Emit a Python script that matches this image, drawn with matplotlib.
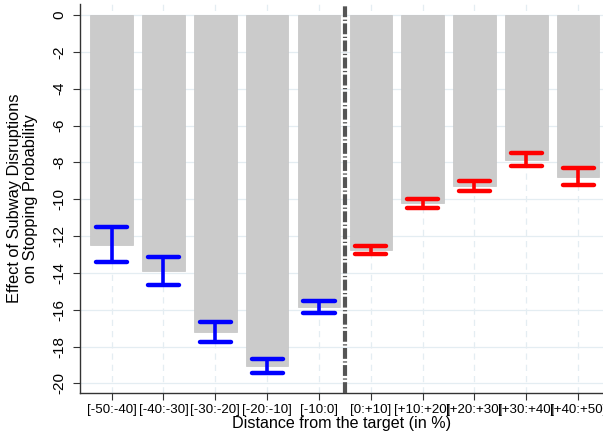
import matplotlib
matplotlib.use("Agg")
import matplotlib.pyplot as plt
import numpy as np

plt.rcParams["font.family"] = ["Liberation Sans", "DejaVu Sans"]

bins = ["[-50:-40]", "[-40:-30]", "[-30:-20]", "[-20:-10]", "[-10:0]",
        "[0:+10]", "[+10:+20]", "[+20:+30]", "[+30:+40]", "[+40:+50]"]
effect = [-12.5, -13.9, -17.2, -19.05, -15.85, -12.73, -10.22, -9.26, -7.86, -8.77]
ci_high = [-11.53, -13.14, -16.67, -18.67, -15.51, -12.51, -9.99, -9.0, -7.5, -8.28]
ci_low = [-13.4, -14.66, -17.77, -19.45, -16.2, -12.98, -10.48, -9.54, -8.19, -9.2]
side = ["below"] * 5 + ["above"] * 5

fig = plt.figure(figsize=(6.03, 4.36), dpi=100)
ax = fig.add_axes([80 / 603, 1 - 392.7 / 436, 1 - 80 / 603, (392.7 - 4) / 436])

x = np.arange(1, len(bins) + 1)
grid_col = "#e4edf2"

ax.bar(x, effect, width=0.82, color="#cbcbcb", edgecolor="#c4c4c4",
       linewidth=0.5, zorder=2)

colors = ["#0000ff" if s == "below" else "#ff0000" for s in side]
ax.vlines(x, ci_low, ci_high, colors=colors, linewidth=2.6, zorder=3)
ax.hlines(ci_low, x - 0.3, x + 0.3, colors=colors, linewidth=3.2,
          capstyle="round", zorder=3)
ax.hlines(ci_high, x - 0.3, x + 0.3, colors=colors, linewidth=3.2,
          capstyle="round", zorder=3)

# threshold between negative and positive distance
ax.axvline(5.5, color="#555555", linewidth=3, dashes=(2.6, 0.6, 0.3, 0.6),
           zorder=4)

ax.set_xlim(0.39, 10.48)
ax.set_ylim(-20.5, 0.6)
ax.set_yticks(np.arange(0, -21, -2))
ax.set_yticklabels([str(v) for v in range(0, -21, -2)], rotation=90,
                   va="center", fontsize=11)
ax.set_xticks(x)
ax.set_xticklabels(bins, fontsize=9.6)

ax.grid(axis="y", color=grid_col, linewidth=0.9, zorder=0)
ax.grid(axis="x", color=grid_col, linewidth=0.9, linestyle=(0, (5, 4)),
        zorder=0)
ax.set_axisbelow(True)

for s in ["top", "right"]:
    ax.spines[s].set_visible(False)
for s in ["left", "bottom"]:
    ax.spines[s].set_color("#333333")
    ax.spines[s].set_linewidth(1.0)
ax.tick_params(axis="both", length=5, color="#333333", pad=3)
ax.tick_params(axis="y", pad=5)

ax.set_ylabel("Effect of Subway Disruptions\non Stopping Probability",
              fontsize=11.8, linespacing=1.12, labelpad=10)
ax.set_xlabel("Distance from the target (in %)", fontsize=11.6, labelpad=0)

fig.savefig("out.png", dpi=100)
